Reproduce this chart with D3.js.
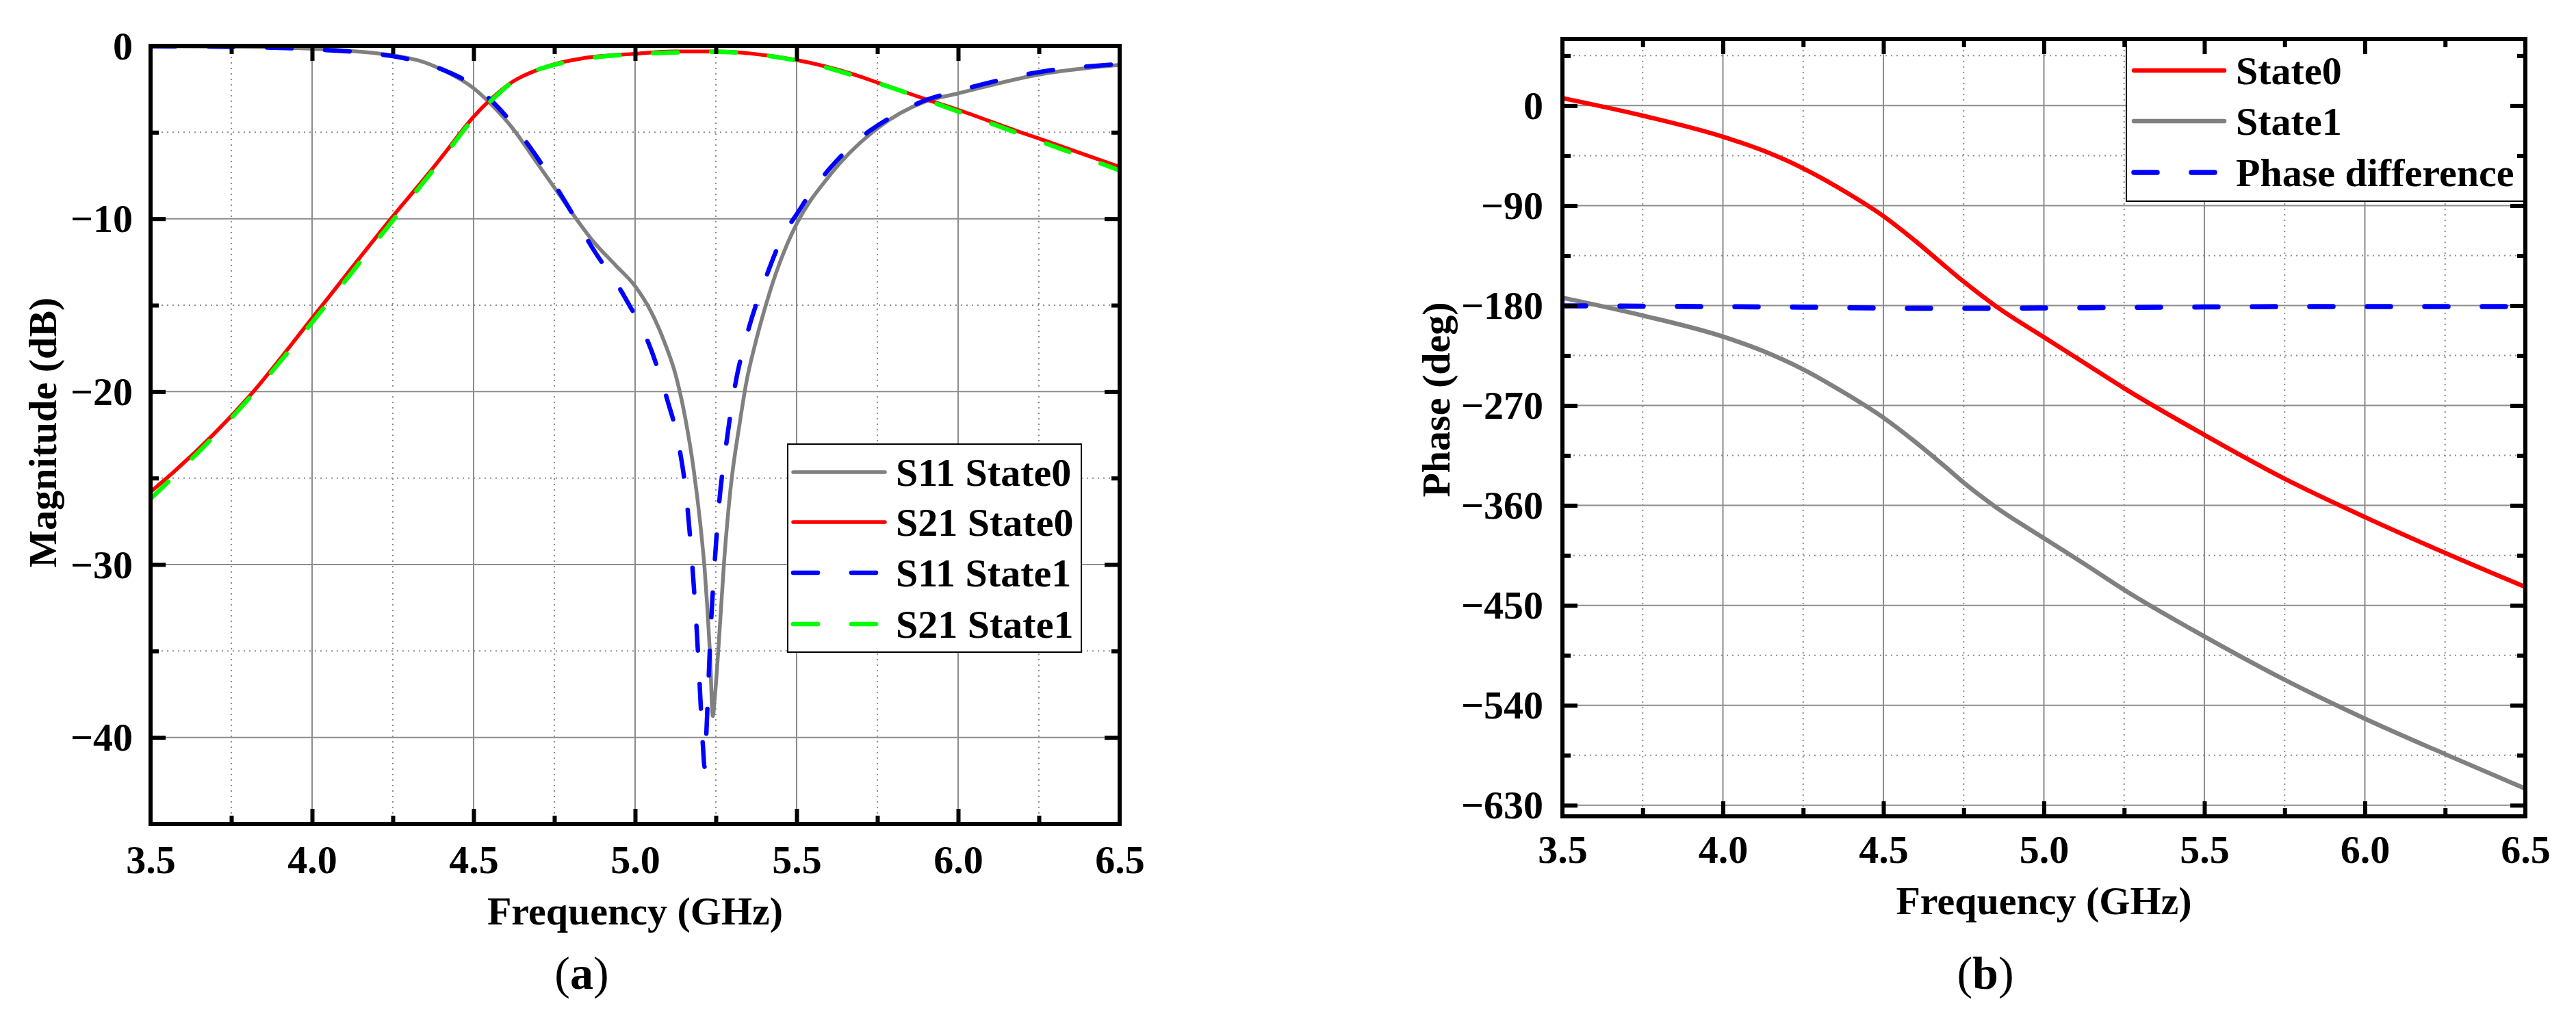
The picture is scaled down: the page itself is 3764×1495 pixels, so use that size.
<!DOCTYPE html>
<html><head><meta charset="utf-8">
<script src="https://cdn.jsdelivr.net/npm/d3@7"></script>
<style>body{margin:0;background:#fff;} text{font-family:"Liberation Serif","Times New Roman",Times,serif;}</style>
</head><body><svg id="c" width="3764" height="1495"></svg>
<script>
// ---------------- shared axis values ----------------
const freqTicks = [3.5, 4.0, 4.5, 5.0, 5.5, 6.0, 6.5];
const freqMinor = [3.75, 4.25, 4.75, 5.25, 5.75, 6.25];
const magTicks = [0, -10, -20, -30, -40];
const magMinor = [-5, -15, -25, -35];
const phaseTicks = [0, -90, -180, -270, -360, -450, -540, -630];
const phaseMinor = [45, -45, -135, -225, -315, -405, -495, -585];

// ---------------- panel (a): magnitude (dB) ----------------
const s11s0F = [3.5, 3.75, 4.0, 4.25, 4.33, 4.41, 4.5, 4.55, 4.62, 4.69, 4.75, 4.81, 4.87, 4.94, 5.0, 5.05, 5.09, 5.125, 5.154, 5.182, 5.206, 5.215, 5.224, 5.232, 5.2405, 5.248, 5.262, 5.276, 5.295, 5.324, 5.345, 5.371, 5.40, 5.435, 5.47, 5.5, 5.6, 5.75, 5.894, 6.0, 6.25, 6.5];
const s11s0V = [-0.02, -0.05, -0.17, -0.55, -0.85, -1.45, -2.45, -3.3, -4.75, -6.6, -8.2, -9.8, -11.3, -12.7, -13.9, -15.4, -17.1, -19.0, -21.4, -24.6, -28.4, -30.2, -32.6, -35.2, -38.76, -37.4, -33.7, -29.7, -25.7, -21.8, -19.4, -17.3, -15.3, -13.2, -11.5, -10.3, -7.55, -4.77, -3.25, -2.75, -1.66, -1.1];

const s21s0F = [3.5, 3.544, 3.809, 4.0, 4.244, 4.377, 4.411, 4.5, 4.545, 4.623, 4.708, 4.75, 4.835, 5.0, 5.117, 5.25, 5.366, 5.5, 5.666, 5.75, 5.894, 6.0, 6.178, 6.25, 6.5];
const s21s0V = [-25.8, -25.1, -20.2, -15.75, -10.0, -7.0, -6.2, -4.1, -3.24, -2.05, -1.32, -1.06, -0.73, -0.46, -0.33, -0.33, -0.46, -0.82, -1.59, -2.12, -3.05, -3.7, -4.9, -5.36, -7.0];

const s11s1F = [3.5, 3.75, 4.0, 4.25, 4.33, 4.42, 4.5, 4.565, 4.68, 4.78, 4.87, 4.97, 5.05, 5.10, 5.13, 5.16, 5.18, 5.192, 5.2, 5.21, 5.215, 5.22, 5.225, 5.234, 5.246, 5.26, 5.281, 5.31, 5.345, 5.403, 5.463, 5.5, 5.54, 5.6, 5.7, 5.82, 5.894, 6.0, 6.25, 6.5];
const s11s1V = [-0.02, -0.06, -0.2, -0.6, -0.92, -1.5, -2.3, -3.35, -6.0, -8.9, -11.75, -14.6, -17.6, -20.5, -22.6, -26.3, -30.8, -34.2, -37.0, -40.5, -41.7, -40.0, -37.8, -33.8, -30.0, -26.5, -23.2, -19.6, -16.8, -13.5, -10.8, -9.75, -8.6, -7.15, -5.3, -3.84, -3.18, -2.6, -1.52, -1.05];

const s21s1F = [3.5, 3.8, 4.0, 4.25, 4.4, 4.5, 4.55, 4.62, 4.75, 5.0, 5.25, 5.5, 5.75, 6.0, 6.25, 6.5];
const s21s1V = [-26.2, -20.5, -16.0, -10.1, -6.6, -4.2, -3.25, -2.1, -1.1, -0.48, -0.35, -0.85, -2.15, -3.8, -5.5, -7.2];

// ---------------- panel (b): phase (deg) ----------------
const ph0F = [3.5, 3.75, 4.0, 4.125, 4.25, 4.375, 4.5, 4.6, 4.7, 4.75, 4.85, 5.0, 5.125, 5.25, 5.5, 5.75, 6.0, 6.25, 6.5];
const ph0V = [6.8, -9, -28, -40.5, -56.5, -76.5, -99.5, -122, -146.5, -158.5, -180.5, -208.5, -231.5, -254.5, -296.5, -336, -370.5, -402.8, -433.5];

const ph1F = [3.5, 3.75, 4.0, 4.125, 4.25, 4.375, 4.5, 4.6, 4.7, 4.75, 4.85, 5.0, 5.125, 5.25, 5.5, 5.75, 6.0, 6.25, 6.5];
const ph1V = [-173, -189, -208, -221, -237.5, -258, -281, -303, -327, -339.5, -361.5, -389.5, -412.5, -436, -478, -517, -552, -584, -615];

const phDiffF = [3.5, 3.75, 4.0, 4.25, 4.5, 4.75, 5.0, 5.25, 5.5, 5.75, 6.0, 6.25, 6.5];
const phDiffV = [-180.3, -180.6, -181, -181.5, -182.3, -182.5, -182.2, -181.8, -181.3, -181, -181, -181, -181];

// ---------------- drawing ----------------
const svg = d3.select("#c");
svg.append("rect").attr("width", 3764).attr("height", 1495).attr("fill", "#fff");
const defs = svg.append("defs");
const FONT = '"Liberation Serif","Times New Roman",Times,serif';

function panel(o) {
  const g = svg.append("g");
  const x = d3.scaleLinear().domain([3.5, 6.5]).range([o.x0, o.x1]);
  const y = d3.scaleLinear().domain(o.yDom).range([o.y0, o.y1]);
  const w = o.x1 - o.x0, h = o.y1 - o.y0;
  defs.append("clipPath").attr("id", "clip" + o.id).append("rect")
    .attr("x", o.x0).attr("y", o.y0).attr("width", w).attr("height", h);

  // grid
  const grid = g.append("g");
  grid.selectAll("line.vmaj").data(freqTicks.slice(1, -1)).join("line").attr("class", "vmaj")
    .attr("x1", d => x(d)).attr("x2", d => x(d)).attr("y1", o.y0).attr("y2", o.y1)
    .attr("stroke", "#8c8c8c").attr("stroke-width", 2);
  grid.selectAll("line.vmin").data(freqMinor).join("line").attr("class", "vmin")
    .attr("x1", d => x(d)).attr("x2", d => x(d)).attr("y1", o.y0).attr("y2", o.y1)
    .attr("stroke", "#8c8c8c").attr("stroke-width", 2).attr("stroke-dasharray", "2,6");
  grid.selectAll("line.hmaj").data(o.yTicks.filter(v => v !== o.yDom[0] && v !== o.yDom[1])).join("line").attr("class", "hmaj")
    .attr("x1", o.x0).attr("x2", o.x1).attr("y1", d => y(d)).attr("y2", d => y(d))
    .attr("stroke", "#8c8c8c").attr("stroke-width", 2);
  grid.selectAll("line.hmin").data(o.yMinor).join("line").attr("class", "hmin")
    .attr("x1", o.x0).attr("x2", o.x1).attr("y1", d => y(d)).attr("y2", d => y(d))
    .attr("stroke", "#8c8c8c").attr("stroke-width", 2).attr("stroke-dasharray", "2,6");

  // series
  const line = d3.line().x(d => x(d[0])).y(d => y(d[1])).curve(d3.curveMonotoneX);
  const sg = g.append("g").attr("clip-path", `url(#clip${o.id})`);
  o.series.forEach(s => {
    sg.append("path").datum(d3.zip(s.f, s.v)).attr("d", line)
      .attr("fill", "none").attr("stroke", s.color).attr("stroke-width", s.dash ? o.dashW : o.lineW)
      .attr("stroke-linecap", "round").attr("stroke-linejoin", "round")
      .attr("stroke-dasharray", s.dash ? o.dashPat : null);
  });

  // legend
  const L = o.legend;
  const lg = g.append("g");
  lg.append("rect").attr("x", L.x0).attr("y", L.y0).attr("width", L.x1 - L.x0).attr("height", L.y1 - L.y0)
    .attr("fill", "#fff").attr("stroke", "#000").attr("stroke-width", 2);
  L.items.forEach((it, i) => {
    const s = o.series[it.idx];
    const ry = L.rows[i];
    lg.append("line").attr("x1", L.sx0).attr("x2", L.sx1).attr("y1", ry).attr("y2", ry)
      .attr("stroke", s.color).attr("stroke-width", s.dash ? o.dashW : o.lineW).attr("stroke-linecap", "round")
      .attr("stroke-dasharray", s.dash ? o.dashPat : null);
    lg.append("text").attr("x", L.tx).attr("y", ry + 20).text(it.label)
      .attr("font-size", 58).attr("font-weight", "bold").attr("fill", "#000");
  });

  // frame
  g.append("rect").attr("x", o.x0).attr("y", o.y0).attr("width", w).attr("height", h)
    .attr("fill", "none").attr("stroke", "#000").attr("stroke-width", 6);

  // ticks (inward on all four sides)
  const tk = (gen, tr, vals, size) => {
    const a = g.append("g").attr("transform", tr).call(gen.tickValues(vals).tickSize(size).tickFormat(""));
    a.select(".domain").remove();
    a.selectAll(".tick line").attr("stroke", "#000").attr("stroke-width", 6);
  };
  tk(d3.axisBottom(x), `translate(0,${o.y1})`, freqTicks.slice(1, -1), -22);
  tk(d3.axisBottom(x), `translate(0,${o.y1})`, freqMinor, -12);
  tk(d3.axisTop(x), `translate(0,${o.y0})`, freqTicks.slice(1, -1), -22);
  tk(d3.axisTop(x), `translate(0,${o.y0})`, freqMinor, -12);
  tk(d3.axisLeft(y), `translate(${o.x0},0)`, o.yTicks.filter(v => v !== o.yDom[0]), -22);
  tk(d3.axisLeft(y), `translate(${o.x0},0)`, o.yMinor, -12);
  tk(d3.axisRight(y), `translate(${o.x1},0)`, o.yTicks.filter(v => v !== o.yDom[0]), -22);
  tk(d3.axisRight(y), `translate(${o.x1},0)`, o.yMinor, -12);

  // tick labels
  const xa = g.append("g").attr("transform", `translate(0,${o.y1})`)
    .call(d3.axisBottom(x).tickValues(freqTicks).tickSize(0).tickPadding(o.xPad).tickFormat(d3.format(".1f")));
  xa.select(".domain").remove();
  xa.selectAll("text").attr("font-size", 58).attr("font-weight", "bold").attr("fill", "#000").attr("font-family", FONT);
  const ya = g.append("g").attr("transform", `translate(${o.x0},0)`)
    .call(d3.axisLeft(y).tickValues(o.yTicks).tickSize(0).tickPadding(o.yPad).tickFormat(d3.format("d")));
  ya.select(".domain").remove();
  ya.selectAll("text").attr("font-size", 58).attr("font-weight", "bold").attr("fill", "#000").attr("dy", "0.33em").attr("font-family", FONT);

  // axis titles
  g.append("text").attr("x", (o.x0 + o.x1) / 2).attr("y", o.xTitleY).attr("text-anchor", "middle")
    .attr("font-size", 58).attr("font-weight", "bold").text("Frequency (GHz)");
  g.append("text").attr("transform", `translate(${o.yTitleX},${o.yTitleCY}) rotate(-90)`).attr("text-anchor", "middle")
    .attr("font-size", 58).attr("font-weight", "bold").text(o.yTitle);

  // sub-label
  const sl = g.append("text").attr("x", o.subX).attr("y", 1445).attr("text-anchor", "middle").attr("font-size", 68);
  sl.append("tspan").text("(");
  sl.append("tspan").attr("font-weight", "bold").text(o.sub);
  sl.append("tspan").text(")");
}

panel({
  id: "a", x0: 220, x1: 1636, y0: 67, y1: 1204, yDom: [0, -45],
  yTicks: magTicks, yMinor: magMinor, xPad: 31, yPad: 26,
  lineW: 5.5, dashW: 6.5, dashPat: "36,49",
  series: [
    { f: s11s0F, v: s11s0V, color: "#808080", dash: false },
    { f: s21s0F, v: s21s0V, color: "#ff0000", dash: false },
    { f: s11s1F, v: s11s1V, color: "#0000ff", dash: true },
    { f: s21s1F, v: s21s1V, color: "#00ff00", dash: true }
  ],
  legend: { x0: 1151, x1: 1580, y0: 649, y1: 953, rows: [690, 763, 837, 912], sx0: 1159, sx1: 1293, tx: 1309,
    items: [{ idx: 0, label: "S11 State0" }, { idx: 1, label: "S21 State0" }, { idx: 2, label: "S11 State1" }, { idx: 3, label: "S21 State1" }] },
  xTitleY: 1351, yTitle: "Magnitude (dB)", yTitleX: 82, yTitleCY: 632,
  sub: "a", subX: 850
});

panel({
  id: "b", x0: 2283, x1: 3690, y0: 57, y1: 1193, yDom: [60, -640],
  yTicks: phaseTicks, yMinor: phaseMinor, xPad: 27, yPad: 28,
  lineW: 6.5, dashW: 7.5, dashPat: "34,50",
  series: [
    { f: ph0F, v: ph0V, color: "#ff0000", dash: false },
    { f: ph1F, v: ph1V, color: "#808080", dash: false },
    { f: phDiffF, v: phDiffV, color: "#0000ff", dash: true }
  ],
  legend: { x0: 3107, x1: 3690, y0: 57, y1: 294, rows: [103, 177, 252], sx0: 3118, sx1: 3250, tx: 3267,
    items: [{ idx: 0, label: "State0" }, { idx: 1, label: "State1" }, { idx: 2, label: "Phase difference" }] },
  xTitleY: 1336, yTitle: "Phase (deg)", yTitleX: 2118, yTitleCY: 584,
  sub: "b", subX: 2901
});
</script>
</body></html>
